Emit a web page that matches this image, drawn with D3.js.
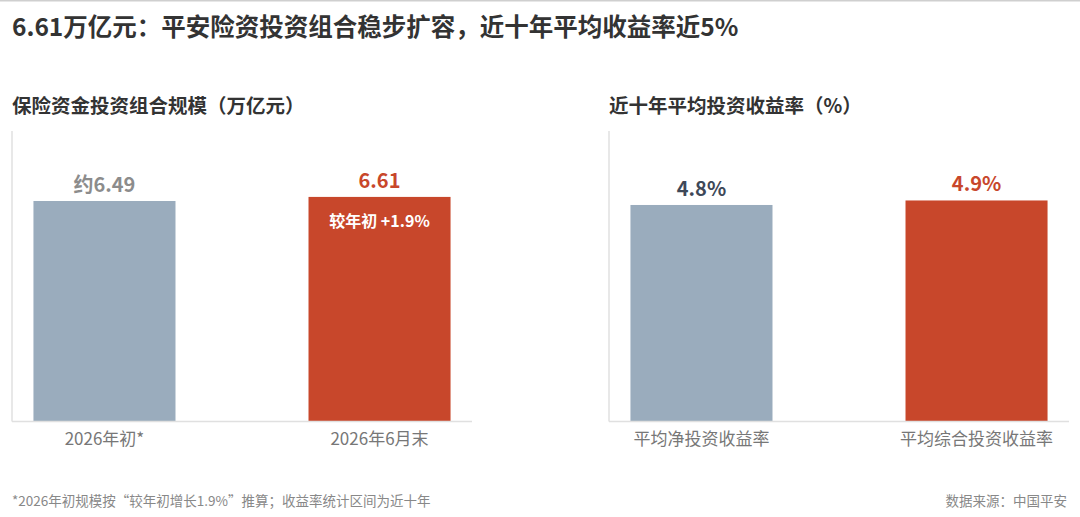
<!DOCTYPE html>
<html>
<head>
<meta charset="utf-8">
<script src="https://cdn.jsdelivr.net/npm/d3@7"></script>
<style>
  html, body { margin: 0; padding: 0; background: #fff; }
  svg { display: block; font-family: "Noto Sans CJK SC", "Noto Sans", sans-serif; }
</style>
</head>
<body>
<div id="chart"></div>
<script>
  // data
  const sizeCategories = ["2026年初*", "2026年6月末"];
  const sizeValues = [6.49, 6.61];
  const sizeLabels = ["约6.49", "6.61"];

  const yieldCategories = ["平均净投资收益率", "平均综合投资收益率"];
  const yieldValues = [4.8, 4.9];
  const yieldLabels = ["4.8%", "4.9%"];

  const title = "6.61万亿元：平安险资投资组合稳步扩容，近十年平均收益率近5%";
  const footnote = "*2026年初规模按“较年初增长1.9%”推算；收益率统计区间为近十年";
  const source = "数据来源：中国平安";

  const width = 1080, height = 517;
  const grey = "#9aacbd", red = "#c8472b";

  const svg = d3.select("#chart").append("svg")
    .attr("width", width)
    .attr("height", height);

  // thin rule on top
  svg.append("line")
    .attr("x1", 0).attr("x2", width)
    .attr("y1", 0.75).attr("y2", 0.75)
    .attr("stroke", "#cfcfcf").attr("stroke-width", 1.5);

  svg.append("text")
    .attr("x", 12).attr("y", 25)
    .attr("dominant-baseline", "central")
    .attr("font-size", 24.5).attr("font-weight", 700)
    .attr("fill", "#333")
    .text(title);

  // one small bar panel
  function panel(opts) {
    const g = svg.append("g");
    const x = d3.scaleBand()
      .domain(opts.categories)
      .range([opts.x0, opts.x0 + 460])
      .paddingInner(0.4836)
      .paddingOuter(0.078);
    const y = d3.scaleLinear()
      .domain([0, opts.yMax])
      .range([421.5, 131]);

    g.append("text")
      .attr("x", opts.x0).attr("y", 104)
      .attr("dominant-baseline", "central")
      .attr("font-size", 19.5).attr("font-weight", 700)
      .attr("fill", "#333")
      .text(opts.title);

    // axis lines
    g.append("line")
      .attr("x1", opts.x0).attr("x2", opts.x0)
      .attr("y1", y.range()[1]).attr("y2", y(0))
      .attr("stroke", "#e0e0e0").attr("stroke-width", 1.5);

    g.selectAll("rect")
      .data(opts.values)
      .enter()
      .append("rect")
      .attr("x", (d, i) => x(opts.categories[i]))
      .attr("y", d => y(d))
      .attr("width", x.bandwidth())
      .attr("height", d => y(0) - y(d))
      .attr("fill", (d, i) => i === 0 ? grey : red);

    g.append("line")
      .attr("x1", opts.x0).attr("x2", opts.x0 + 460)
      .attr("y1", y(0)).attr("y2", y(0))
      .attr("stroke", "#e0e0e0").attr("stroke-width", 1.5);

    g.selectAll(".val")
      .data(opts.values)
      .enter()
      .append("text")
      .attr("class", "val")
      .attr("x", (d, i) => x(opts.categories[i]) + x.bandwidth() / 2)
      .attr("y", d => y(d) - 17.5)
      .attr("text-anchor", "middle")
      .attr("dominant-baseline", "central")
      .attr("font-size", 20).attr("font-weight", 700)
      .attr("fill", (d, i) => i === 0 ? opts.firstColor : red)
      .text((d, i) => opts.labels[i]);

    g.selectAll(".cat")
      .data(opts.categories)
      .enter()
      .append("text")
      .attr("class", "cat")
      .attr("x", d => x(d) + x.bandwidth() / 2)
      .attr("y", 437)
      .attr("text-anchor", "middle")
      .attr("dominant-baseline", "central")
      .attr("font-size", 17)
      .attr("fill", "#777")
      .text(d => d);

    return { g, x, y };
  }

  const left = panel({
    x0: 12,
    title: "保险资金投资组合规模（万亿元）",
    categories: sizeCategories,
    values: sizeValues,
    labels: sizeLabels,
    yMax: 8.55,
    firstColor: "#8c8c8c"
  });

  // growth note inside the second bar
  left.g.append("text")
    .attr("x", left.x(sizeCategories[1]) + left.x.bandwidth() / 2)
    .attr("y", left.y(sizeValues[1]) + 23)
    .attr("text-anchor", "middle")
    .attr("dominant-baseline", "central")
    .attr("font-size", 16).attr("font-weight", 700)
    .attr("fill", "#fff")
    .text("较年初 +1.9%");

  panel({
    x0: 609,
    title: "近十年平均投资收益率（%）",
    categories: yieldCategories,
    values: yieldValues,
    labels: yieldLabels,
    yMax: 6.44,
    firstColor: "#3e4858"
  });

  svg.append("text")
    .attr("x", 12).attr("y", 500)
    .attr("dominant-baseline", "central")
    .attr("font-size", 13.5)
    .attr("fill", "#888")
    .text(footnote);

  svg.append("text")
    .attr("x", 1067).attr("y", 500)
    .attr("text-anchor", "end")
    .attr("dominant-baseline", "central")
    .attr("font-size", 13.5)
    .attr("fill", "#888")
    .text(source);
</script>
</body>
</html>
